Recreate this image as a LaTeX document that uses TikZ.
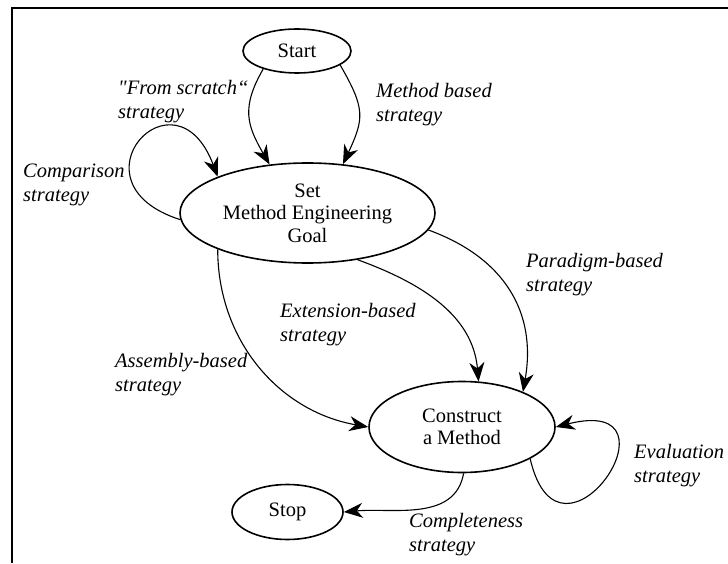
\documentclass[tikz,border=0pt]{standalone}
\usepackage{fontspec}
\setmainfont{Liberation Serif}
\usetikzlibrary{arrows.meta,shapes.geometric}

\tikzset{
  state/.style={ellipse,draw,line width=1.6pt,inner sep=0pt,align=center,
    font=\fontsize{20.5}{22.5}\selectfont},
  strat/.style={anchor=base west,inner sep=0pt,align=left,
    font=\fontsize{20.5}{24}\selectfont\itshape},
  trans/.style={-{Stealth[length=19pt,width=15pt,inset=6pt]},line width=1.1pt},
}

\begin{document}
\begin{tikzpicture}[x=1pt,y=1pt]
 %frame
    \useasboundingbox (0,0) rectangle (728,563);
    \draw[line width=1.3pt] (12,0) -- (12,555) -- (728,555);
 %states
    \node[state,minimum width=108pt,minimum height=44pt] (start) at (297,512) {Start};
    \node[state,minimum width=255pt,minimum height=100pt] (goal) at (307.5,350) {Set\\Method Engineering\\Goal};
    \node[state,minimum width=186pt,minimum height=91pt] (construct) at (462,136) {Construct\\a Method};
    \node[state,minimum width=111pt,minimum height=55pt] (stop) at (287.5,51) {Stop};
 %strategies
    \draw[trans] (start.208) to[out=-120,in=120,looseness=1.2] (goal.128);
    \draw[trans] (start.-18) to[out=-60,in=65,looseness=1.3] (goal.54);
    \draw[trans] (goal.183) .. controls (65,380) and (175,500) .. (goal.158);
    \draw[trans] (goal.-158) to[out=-90,in=170] (construct.west);
    \draw[trans] (goal.-43) to[out=-20,in=95] (construct.70);
    \draw[trans] (goal.-8) to[out=-20,in=80,looseness=1.1] (construct.30);
    \draw[trans] (construct.-25) .. controls (560,-25) and (690,170) .. (construct.east);
    \draw[trans] (construct.-88) to[out=-100,in=5] (stop.east);
 %labels (anchored at the baseline of the second line)
    \node[strat] (lscratch) at (118,444) {\textquotedbl From scratch“\\strategy};
    \node[strat] (lcompare) at (23,361) {Comparison\\strategy};
    \node[strat] (lmethod) at (376,441) {Method based\\strategy};
    \node[strat] (lparadigm) at (526,271) {Paradigm-based\\strategy};
    \node[strat] (lextension) at (280,222) {Extension-based\\strategy};
    \node[strat] (lassembly) at (115,172) {Assembly-based\\strategy};
    \node[strat] (levaluation) at (634,81) {Evaluation\\strategy};
    \node[strat] (lcomplete) at (409,12) {Completeness\\strategy};
\end{tikzpicture}
\end{document}
